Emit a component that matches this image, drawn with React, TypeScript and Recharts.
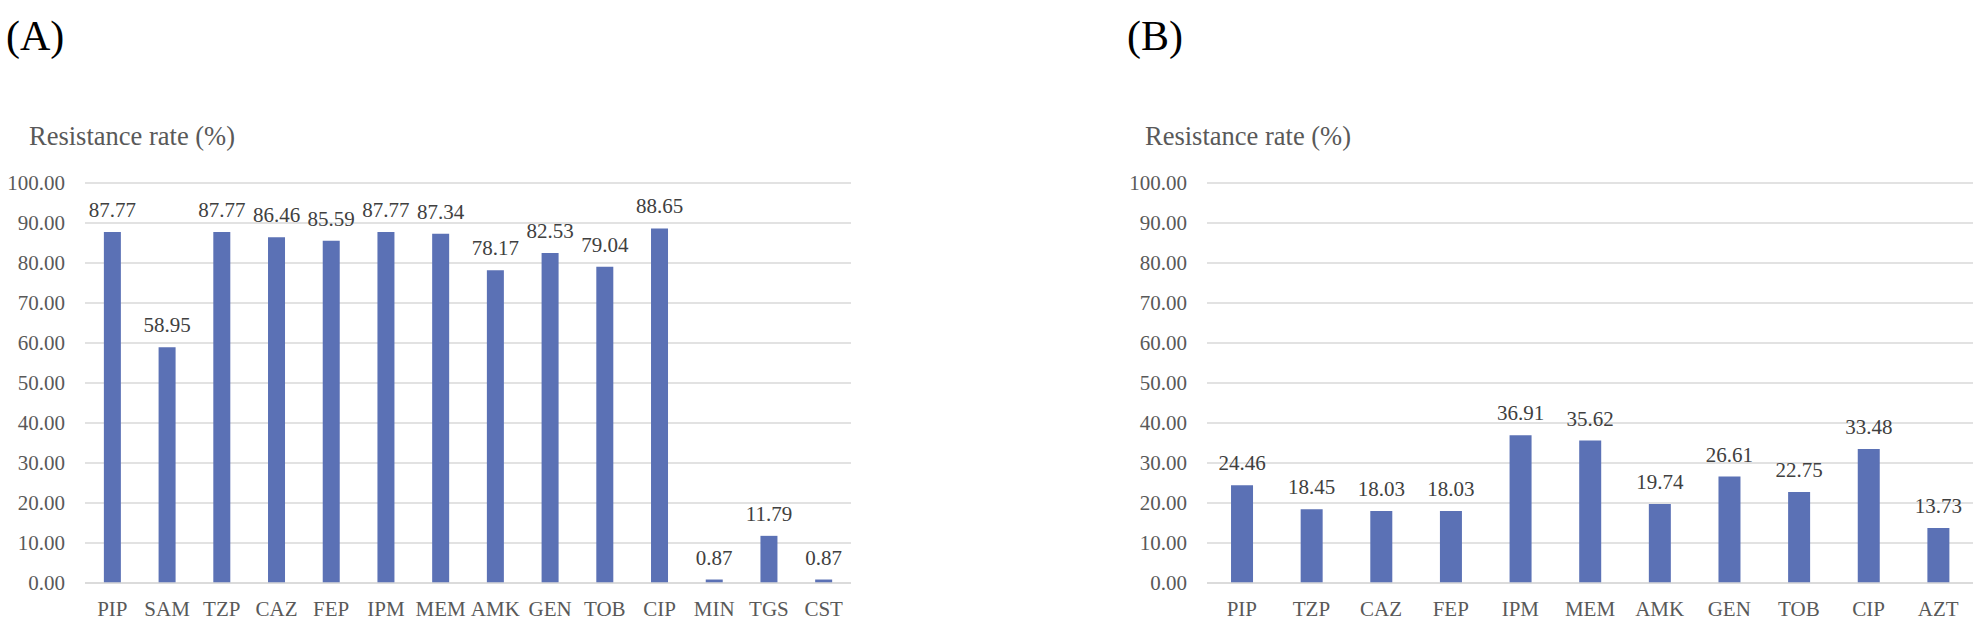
import { BarChart, Bar, XAxis, YAxis, CartesianGrid, LabelList } from "recharts";

const drugsA = ["PIP", "SAM", "TZP", "CAZ", "FEP", "IPM", "MEM", "AMK", "GEN", "TOB", "CIP", "MIN", "TGS", "CST"];
const ratesA = [87.77, 58.95, 87.77, 86.46, 85.59, 87.77, 87.34, 78.17, 82.53, 79.04, 88.65, 0.87, 11.79, 0.87];

const drugsB = ["PIP", "TZP", "CAZ", "FEP", "IPM", "MEM", "AMK", "GEN", "TOB", "CIP", "AZT"];
const ratesB = [24.46, 18.45, 18.03, 18.03, 36.91, 35.62, 19.74, 26.61, 22.75, 33.48, 13.73];

const yTicks = [0, 10, 20, 30, 40, 50, 60, 70, 80, 90, 100];

const serif = "'Liberation Serif', 'Times New Roman', serif";
const barColor = "#5b71b5";

function Panel({
  drugs,
  rates,
  width,
  yWidth,
  right,
}: {
  drugs: string[];
  rates: number[];
  width: number;
  yWidth: number;
  right: number;
}) {
  const data = drugs.map((name, i) => ({ name, rate: rates[i] }));
  return (
    <BarChart
      width={width}
      height={642}
      data={data}
      margin={{ top: 183, right, bottom: 0, left: 0 }}
      barCategoryGap="34.5%"
    >
      <CartesianGrid vertical={false} stroke="#d9d9d9" strokeWidth={1.5} />
      <XAxis
        dataKey="name"
        height={59}
        axisLine={{ stroke: "#d9d9d9", strokeWidth: 1.5 }}
        tickLine={false}
        tickMargin={12}
        interval={0}
        tick={{ fill: "#595959", fontSize: 21, fontFamily: serif }}
      />
      <YAxis
        width={yWidth}
        domain={[0, 100]}
        ticks={yTicks}
        axisLine={false}
        tickLine={false}
        tickMargin={14}
        tickFormatter={(v: number) => v.toFixed(2)}
        tick={{ fill: "#595959", fontSize: 21, fontFamily: serif }}
      />
      <Bar dataKey="rate" fill={barColor} isAnimationActive={false}>
        <LabelList
          dataKey="rate"
          position="top"
          offset={15}
          formatter={(v: any) => Number(v).toFixed(2)}
          style={{ fill: "#404040", fontSize: 21, fontFamily: serif }}
        />
      </Bar>
    </BarChart>
  );
}

const panelTag = {
  position: "absolute" as const,
  fontFamily: serif,
  fontSize: 42,
  lineHeight: 1,
  color: "#000",
  top: 15,
};

const axisTitle = {
  position: "absolute" as const,
  fontFamily: serif,
  fontSize: 26.5,
  lineHeight: 1,
  color: "#595959",
  top: 123,
  whiteSpace: "nowrap" as const,
};

export default function App() {
  return (
    <div
      style={{
        position: "absolute",
        left: 0,
        top: 0,
        width: 1984,
        height: 642,
        background: "#fff",
        overflow: "hidden",
      }}
    >
      <div style={{ ...panelTag, left: 6 }}>(A)</div>
      <div style={{ ...panelTag, left: 1127 }}>(B)</div>
      <div style={{ ...axisTitle, left: 29 }}>Resistance rate (%)</div>
      <div style={{ ...axisTitle, left: 1145 }}>Resistance rate (%)</div>
      <div style={{ position: "absolute", left: 0, top: 0 }}>
        <Panel drugs={drugsA} rates={ratesA} width={870} yWidth={85} right={19} />
      </div>
      <div style={{ position: "absolute", left: 1100, top: 0 }}>
        <Panel drugs={drugsB} rates={ratesB} width={884} yWidth={107} right={11} />
      </div>
    </div>
  );
}
